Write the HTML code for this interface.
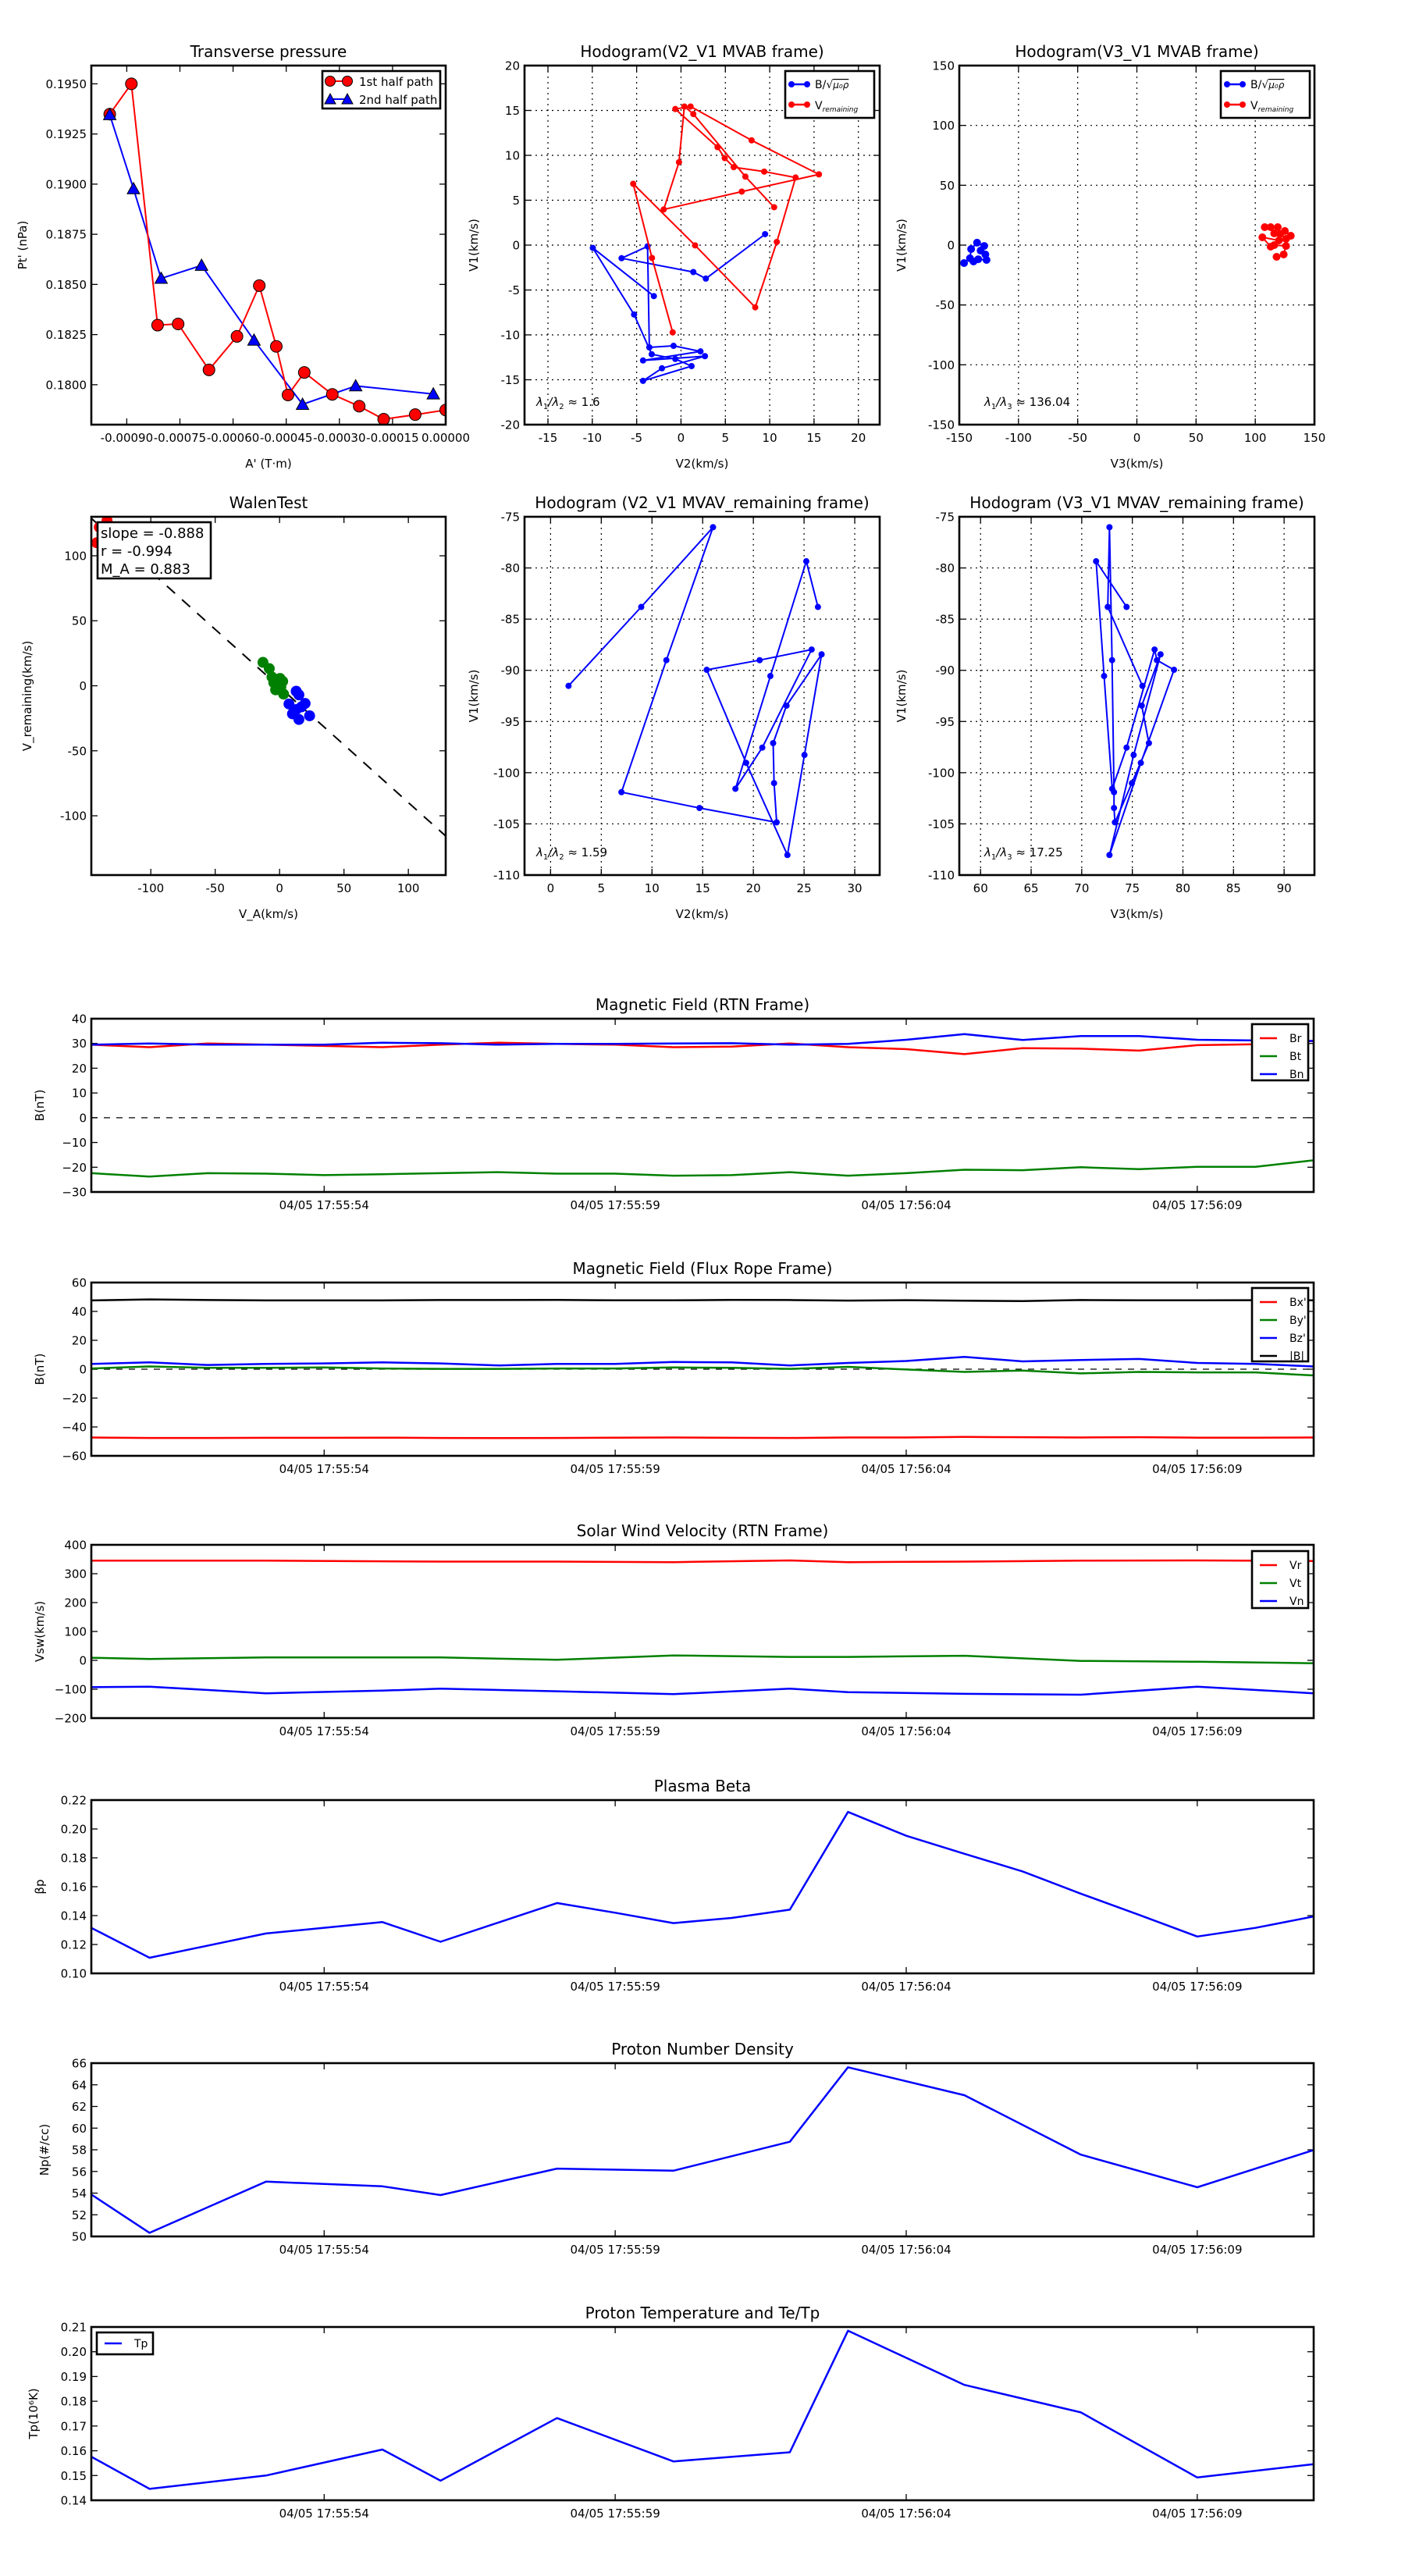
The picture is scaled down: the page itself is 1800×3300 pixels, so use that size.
<!DOCTYPE html>
<html><head><meta charset="utf-8">
<style>
html,body{margin:0;padding:0;background:#fff;}
svg{display:block;font-family:"DejaVu Sans","Liberation Sans",sans-serif;}
</style></head>
<body>
<svg id="fig" width="1800" height="3300" viewBox="0 0 1800 3300" xmlns="http://www.w3.org/2000/svg"></svg>
<script>
// ---------- data: transverse pressure ----------
const tpA1 = [-0.000948,-0.000887,-0.000813,-0.000755,-0.000668,-0.000589,-0.000526,-0.000478,-0.000445,-0.000399,-0.000320,-0.000244,-0.000175,-0.000086,0];
const tpP1 = [0.19349,0.1950,0.18297,0.18303,0.18074,0.18241,0.18494,0.18191,0.17949,0.18061,0.17952,0.17893,0.17828,0.17851,0.17874];
const tpA2 = [-0.000948,-0.000881,-0.000803,-0.000689,-0.000541,-0.000404,-0.000254,-0.000035];
const tpP2 = [0.19346,0.18977,0.1853,0.18595,0.18222,0.17902,0.17994,0.17954];
// ---------- hodogram V2-V1 MVAB ----------
const h1BV2 = [9.48,2.8,1.39,-6.7,-3.77,-3.57,-0.84,2.2,-4.28,2.7,-2.15,-4.28,1.19,-0.64,-3.3,-5.29,-9.94,-3.06];
const h1BV1 = [1.22,-3.73,-3.0,-1.46,-0.14,-11.39,-11.22,-11.84,-12.85,-12.37,-13.72,-15.12,-13.48,-12.68,-12.16,-7.73,-0.31,-5.68];
const h1VV2 = [-0.94,-3.27,-5.39,1.59,8.37,10.8,12.92,9.38,5.94,4.93,4.12,-0.64,1.08,7.96,15.55,6.85,-1.95,-0.23,0.38,1.39,7.26,10.5];
const h1VV1 = [-9.72,-1.43,6.83,-0.03,-6.93,0.35,7.53,8.19,8.68,9.69,10.91,15.16,15.44,11.67,7.88,5.96,3.97,9.23,15.44,14.6,7.63,4.22];
// ---------- hodogram V3-V1 MVAB ----------
const h2BV3 = [-146,-141,-140,-135,-129,-132,-128,-127,-134,-138];
const h2BV1 = [-15,-11,-3.3,2,-0.7,-4.6,-7.8,-12.4,-11.8,-13.7];
const h2VV3 = [108,113,119,116,121,125,130,126,120,106,113,116,126,124,118];
const h2VV1 = [15,15,15,9.8,9.2,11.8,7.8,5.2,3.9,6.5,-1.3,0,-0.7,-7.8,-9.8];
// ---------- Walen test ----------
const walenSlope = -0.888;
const walenIntercept = -1;
const wGx = [-12.9,-8.0,-5.9,0.35,-4.5,2.4,-3.1,3.1,1.0];
const wGy = [18.0,13.2,6.7,5.6,2.4,3.4,-3.1,-6.4,-0.9];
const wBx = [12.9,15.0,7.3,19.8,12.9,23.3,15.0,10.0,17.0];
const wBy = [-4.2,-7.0,-14.0,-13.6,-18.3,-23.1,-25.9,-21.6,-16.2];
const wRx = [-140,-137,-142,-134];
const wRy = [122,115,110,127];
// ---------- MVAV hodograms ----------
const mV2 = [1.77,8.94,16.02,11.42,6.99,14.69,22.3,22.04,21.95,23.27,26.73,25.04,23.36,19.29,15.4,20.62,25.75,20.88,18.23,21.68,25.22,26.37];
const mV1 = [-91.52,-83.81,-76.02,-89.01,-101.9,-103.45,-104.85,-101.02,-97.11,-93.45,-88.44,-98.27,-108.04,-99.04,-89.95,-89.01,-87.97,-97.55,-101.57,-90.56,-79.35,-83.81];
const mV3 = [76.0,72.57,72.74,73.0,73.19,73.19,73.28,74.96,76.64,75.93,77.79,75.13,72.74,75.84,79.12,77.43,77.2,74.43,73.01,72.21,71.42,74.43];
// ---------- time series ----------
const tSec = [50,51,52,53,54,55,56,57,58,59,60,61,62,63,64,65,66,67,68,69,70,71];
const Br = [29.5,28.5,30,29.5,29,28.5,29.5,30.3,29.8,29.5,28.5,28.7,30,28.5,27.7,25.7,28.1,27.9,27.1,29.3,29.7,31];
const Bt = [-22.4,-23.8,-22.4,-22.6,-23.2,-22.8,-22.4,-22,-22.6,-22.6,-23.4,-23.2,-22,-23.4,-22.4,-21,-21.2,-20,-20.8,-19.8,-19.8,-17.2];
const Bn = [29.5,30,29.5,29.5,29.5,30.3,30.1,29.5,29.8,29.8,30,30.1,29.5,29.8,31.5,33.8,31.4,33,33,31.5,31.2,31];
const Bx = [-47.3,-47.6,-47.6,-47.5,-47.5,-47.4,-47.6,-47.7,-47.6,-47.4,-47.3,-47.5,-47.6,-47.3,-47.3,-46.9,-47.1,-47.3,-47.1,-47.4,-47.4,-47.3];
const By = [0.5,1.9,0.9,0.9,1.2,0.5,0.2,0.2,0.5,0.5,1.2,0.9,0.2,1.6,-0.2,-1.9,-0.9,-2.9,-1.9,-2.2,-2.2,-4.3];
const Bz = [3.6,4.7,2.9,3.6,4,4.7,4,2.6,3.6,3.6,5,4.7,2.6,4.3,5.7,8.5,5.4,6.4,7.1,4.3,3.6,1.9];
const Bmag = [47.6,48.3,47.9,47.6,47.6,47.6,47.9,47.9,48,47.7,47.7,48,47.9,47.5,47.8,47.4,47.2,47.9,47.7,47.7,47.8,47.7];
const tV = [50,51,53,55,56,58,60,62,63,65,67,69,71];
const Vr = [345,345,345,343,342,342,340,346,340,342,345,346,344];
const Vt = [9,5,10,10,10,2,17,12,12,16,-2,-5,-10];
const Vn = [-93,-91,-114,-105,-98,-107,-117,-98,-110,-116,-119,-91,-114];
const tBeta = [50,51,53,55,56,58,59,60,61,62,63,64,65,66,67,68,69,70,71];
const beta = [0.1315,0.1108,0.1276,0.1355,0.1219,0.1487,0.142,0.1348,0.1384,0.1441,0.2118,0.1953,0.1828,0.1706,0.1552,0.1405,0.1255,0.1315,0.1394];
const tNp = [50,51,53,55,56,58,60,62,63,65,67,69,71];
const Np = [53.87,50.33,55.06,54.63,53.82,56.26,56.07,58.74,65.62,63.04,57.55,54.54,57.98];
const Tp = [0.1576,0.1446,0.1500,0.1605,0.1479,0.1732,0.1557,0.1594,0.2085,0.1866,0.1755,0.1492,0.1546];
const timeTicks = [54,59,64,69];
const timeLabels = ['04/05 17:55:54','04/05 17:55:59','04/05 17:56:04','04/05 17:56:09'];

// ---------- helpers ----------
const NS = 'http://www.w3.org/2000/svg';
const fig = document.getElementById('fig');
function mk(tag, attrs, parent, name, inter) {
  const el = document.createElementNS(NS, tag);
  for (const k in attrs) el.setAttribute(k, attrs[k]);
  
  
  (parent || fig).appendChild(el);
  return el;
}
function txt(x, y, s, size, anchor, parent, name, extra) {
  const a = {x: x, y: y, 'font-size': size, 'text-anchor': anchor || 'middle', fill: '#000'};
  if (extra) for (const k in extra) a[k] = extra[k];
  const t = mk('text', a, parent, name, false);
  t.textContent = s;
  return t;
}
function axes(o) {
  const g = mk('g', {}, fig, o.name, false);
  const sx = v => o.x0 + (v - o.xmin) / (o.xmax - o.xmin) * o.w;
  const sy = v => o.y0 + o.h - (v - o.ymin) / (o.ymax - o.ymin) * o.h;
  const gridG = mk('g', {}, g, o.name + '-grid', false);
  const tickG = mk('g', {stroke: '#000', 'stroke-width': 1.3}, g, o.name + '-ticks', false);
  o.xticks.forEach((v, i) => {
    const x = sx(v);
    if (o.grid) mk('line', {x1: x, y1: o.y0, x2: x, y2: o.y0 + o.h, stroke: '#000', 'stroke-width': 1.2, 'stroke-dasharray': '2,5'}, gridG, 'x-gridline', false);
    mk('line', {x1: x, y1: o.y0 + o.h, x2: x, y2: o.y0 + o.h - 8}, tickG, 'x-tick', false);
    mk('line', {x1: x, y1: o.y0, x2: x, y2: o.y0 + 8}, tickG, 'x-tick-top', false);
    txt(x, o.y0 + o.h + 22, o.xlabels[i], 15, 'middle', g, 'x-tick-label');
  });
  o.yticks.forEach((v, i) => {
    const y = sy(v);
    if (o.grid) mk('line', {x1: o.x0, y1: y, x2: o.x0 + o.w, y2: y, stroke: '#000', 'stroke-width': 1.2, 'stroke-dasharray': '2,5'}, gridG, 'y-gridline', false);
    mk('line', {x1: o.x0, y1: y, x2: o.x0 + 8, y2: y}, tickG, 'y-tick', false);
    mk('line', {x1: o.x0 + o.w, y1: y, x2: o.x0 + o.w - 8, y2: y}, tickG, 'y-tick-right', false);
    txt(o.x0 - 6, y + 5.5, o.ylabels[i], 15, 'end', g, 'y-tick-label');
  });
  const plot = mk('g', {}, g, o.name + '-plot-area', false);
  const cp = 'clip-' + o.name;
  const defs = mk('defs', {}, g, 'clip-defs', false);
  const c = mk('clipPath', {id: cp}, defs, 'clip', false);
  mk('rect', {x: o.x0, y: o.y0, width: o.w, height: o.h}, c, 'clip-rect', false);
  plot.setAttribute('clip-path', 'url(#' + cp + ')');
  const frameG = mk('g', {}, g, o.name + '-frame-group', false);
  const fr = mk('rect', {x: o.x0, y: o.y0, width: o.w, height: o.h, fill: 'none', stroke: '#000', 'stroke-width': 2.6}, frameG, 'axes-frame', false);
  if (o.title) txt(o.x0 + o.w / 2, o.y0 - 11, o.title, 20, 'middle', g, 'chart-title');
  if (o.xlabel) txt(o.x0 + o.w / 2, o.y0 + o.h + 55, o.xlabel, 15, 'middle', g, 'x-axis-title');
  if (o.ylabel) {
    const t = txt(o.ylx, o.y0 + o.h / 2, o.ylabel, 15, 'middle', g, 'y-axis-title');
    t.setAttribute('transform', 'rotate(-90 ' + o.ylx + ' ' + (o.y0 + o.h / 2) + ')');
  }
  return {g: g, plot: plot, frameG: frameG, sx: sx, sy: sy};
}
function line(ax, xs, ys, color, w, name, dash) {
  const pts = xs.map((v, i) => ax.sx(v).toFixed(1) + ',' + ax.sy(ys[i]).toFixed(1)).join(' ');
  const a = {points: pts, fill: 'none', stroke: color, 'stroke-width': w, 'stroke-linejoin': 'round'};
  if (dash) a['stroke-dasharray'] = dash;
  return mk('polyline', a, ax.plot, name, false);
}
function dots(ax, xs, ys, color, r, name, edge) {
  const g = mk('g', {}, ax.plot, name + '-markers', false);
  xs.forEach((v, i) => {
    const a = {cx: ax.sx(v), cy: ax.sy(ys[i]), r: r, fill: color};
    if (edge) { a.stroke = '#000'; a['stroke-width'] = 1; }
    mk('circle', a, g, name + '-point', false);
  });
}
function tris(ax, xs, ys, color, s, name) {
  const g = mk('g', {}, ax.plot, name + '-markers', false);
  xs.forEach((v, i) => {
    const x = ax.sx(v), y = ax.sy(ys[i]);
    mk('polygon', {points: (x) + ',' + (y - s) + ' ' + (x - s) + ',' + (y + s * 0.8) + ' ' + (x + s) + ',' + (y + s * 0.8), fill: color, stroke: '#000', 'stroke-width': 1}, g, name + '-point', false);
  });
}
function legendBox(parent, x, y, w, h, name) {
  const g = mk('g', {}, parent, name, false);
  mk('rect', {x: x, y: y, width: w, height: h, fill: '#fff', stroke: '#000', 'stroke-width': 2.6}, g, 'legend-frame', false);
  return g;
}
function rng(a, b, s) { const r = []; for (let v = a; s > 0 ? v <= b + 1e-9 : v >= b - 1e-9; v += s) r.push(+v.toFixed(6)); return r; }

// ---------- Transverse pressure ----------
{
  const xt = [-0.0009,-0.00075,-0.0006,-0.00045,-0.0003,-0.00015,0];
  const yt = [0.18,0.1825,0.185,0.1875,0.19,0.1925,0.195];
  const ax = axes({name: 'transverse-pressure-chart', x0: 117, y0: 84, w: 454, h: 460, xmin: -0.001, xmax: 0, ymin: 0.17801, ymax: 0.19591,
    xticks: xt, xlabels: ['-0.00090','-0.00075','-0.00060','-0.00045','-0.00030','-0.00015','0.00000'],
    yticks: yt, ylabels: yt.map(v => v.toFixed(4)), title: 'Transverse pressure', xlabel: "A' (T·m)", ylabel: "Pt' (nPa)", ylx: 34});
  line(ax, tpA2, tpP2, '#0000ff', 2, 'second-half-path-line');
  line(ax, tpA1, tpP1, '#ff0000', 2, 'first-half-path-line');
  dots(ax, tpA1, tpP1, '#ff0000', 7.5, 'first-half-path', true);
  tris(ax, tpA2, tpP2, '#0000ff', 8, 'second-half-path');
  const lg = legendBox(ax.frameG, 413, 91, 151, 48, 'legend');
  mk('line', {x1: 423, y1: 104, x2: 445, y2: 104, stroke: '#f00', 'stroke-width': 2}, lg, 'legend-swatch-first', false);
  mk('circle', {cx: 423, cy: 104, r: 6.5, fill: '#f00', stroke: '#000'}, lg, 'legend-marker', false);
  mk('circle', {cx: 445, cy: 104, r: 6.5, fill: '#f00', stroke: '#000'}, lg, 'legend-marker', false);
  txt(460, 110, '1st half path', 15, 'start', lg, 'legend-entry-first');
  mk('line', {x1: 423, y1: 127, x2: 445, y2: 127, stroke: '#00f', 'stroke-width': 2}, lg, 'legend-swatch-second', false);
  mk('polygon', {points: '423,120 416,133 430,133', fill: '#00f', stroke: '#000'}, lg, 'legend-marker', false);
  mk('polygon', {points: '445,120 438,133 452,133', fill: '#00f', stroke: '#000'}, lg, 'legend-marker', false);
  txt(460, 133, '2nd half path', 15, 'start', lg, 'legend-entry-second');
}
function hodoLegend(parent, x, y, name) {
  const lg = legendBox(parent, x, y, 114, 60, name);
  mk('line', {x1: x + 8, y1: y + 17, x2: x + 28, y2: y + 17, stroke: '#00f', 'stroke-width': 2.5}, lg, 'legend-swatch-b', false);
  mk('circle', {cx: x + 8, cy: y + 17, r: 4, fill: '#00f'}, lg, 'legend-marker', false);
  mk('circle', {cx: x + 28, cy: y + 17, r: 4, fill: '#00f'}, lg, 'legend-marker', false);
  const t1 = txt(x + 38, y + 22, 'B/√', 14, 'start', lg, 'legend-entry-b');
  const ts = document.createElementNS(NS, 'tspan'); ts.setAttribute('font-style', 'italic'); ts.setAttribute('font-size', '12'); ts.setAttribute('text-decoration', 'overline'); ts.textContent = 'μ₀ρ'; t1.appendChild(ts);
  mk('line', {x1: x + 8, y1: y + 43, x2: x + 28, y2: y + 43, stroke: '#f00', 'stroke-width': 2.5}, lg, 'legend-swatch-v', false);
  mk('circle', {cx: x + 8, cy: y + 43, r: 4, fill: '#f00'}, lg, 'legend-marker', false);
  mk('circle', {cx: x + 28, cy: y + 43, r: 4, fill: '#f00'}, lg, 'legend-marker', false);
  const t2 = txt(x + 38, y + 49, 'V', 14, 'start', lg, 'legend-entry-v');
  const ts2 = document.createElementNS(NS, 'tspan'); ts2.setAttribute('font-style', 'italic'); ts2.setAttribute('font-size', '9'); ts2.setAttribute('dy', '3'); ts2.textContent = 'remaining'; t2.appendChild(ts2);
}
function lambdaText(parent, x, y, sub, val, name) {
  const t = txt(x, y, '', 15, 'start', parent, name);
  const parts = [['λ', 0, 'italic', 15], ['1', 4, 'normal', 10], ['/λ', -4, 'italic', 15], [sub, 4, 'normal', 10], [' ≈ ' + val, -4, 'normal', 15]];
  parts.forEach(p => { const s = document.createElementNS(NS, 'tspan'); s.setAttribute('dy', p[1]); s.setAttribute('font-style', p[2]); s.setAttribute('font-size', p[3]); s.textContent = p[0]; t.appendChild(s); });
}
// ---------- Hodogram V2_V1 MVAB ----------
{
  const xt = rng(-15, 20, 5), yt = rng(-20, 20, 5);
  const ax = axes({name: 'hodogram-v2-v1-mvab', x0: 672, y0: 84, w: 455, h: 460, xmin: -17.64, xmax: 22.4, ymin: -20, ymax: 20,
    xticks: xt, xlabels: xt.map(String), yticks: yt, ylabels: yt.map(String), grid: true,
    title: 'Hodogram(V2_V1 MVAB frame)', xlabel: 'V2(km/s)', ylabel: 'V1(km/s)', ylx: 612});
  line(ax, h1BV2, h1BV1, '#0000ff', 2, 'b-alfven-path');
  dots(ax, h1BV2, h1BV1, '#0000ff', 4, 'b-alfven');
  line(ax, h1VV2, h1VV1, '#ff0000', 2, 'v-remaining-path');
  dots(ax, h1VV2, h1VV1, '#ff0000', 4, 'v-remaining');
  hodoLegend(ax.frameG, 1006, 91, 'legend');
  lambdaText(ax.g, 687, 520, '2', '1.6', 'eigenvalue-ratio');
}
// ---------- Hodogram V3_V1 MVAB ----------
{
  const t = rng(-150, 150, 50);
  const ax = axes({name: 'hodogram-v3-v1-mvab', x0: 1229, y0: 84, w: 455, h: 460, xmin: -150, xmax: 150, ymin: -150, ymax: 150,
    xticks: t, xlabels: t.map(String), yticks: t, ylabels: t.map(String), grid: true,
    title: 'Hodogram(V3_V1 MVAB frame)', xlabel: 'V3(km/s)', ylabel: 'V1(km/s)', ylx: 1160});
  line(ax, h2BV3, h2BV1, '#0000ff', 2, 'b-alfven-path');
  dots(ax, h2BV3, h2BV1, '#0000ff', 5, 'b-alfven');
  line(ax, h2VV3, h2VV1, '#ff0000', 2, 'v-remaining-path');
  dots(ax, h2VV3, h2VV1, '#ff0000', 5, 'v-remaining');
  hodoLegend(ax.frameG, 1564, 91, 'legend');
  lambdaText(ax.g, 1261, 520, '3', '136.04', 'eigenvalue-ratio');
}
// ---------- Walen test ----------
{
  const t = [-100, -50, 0, 50, 100];
  const ax = axes({name: 'walen-test-chart', x0: 117, y0: 662, w: 454, h: 459, xmin: -146.2, xmax: 129, ymin: -145.6, ymax: 130,
    xticks: t, xlabels: t.map(String), yticks: t, ylabels: t.map(String),
    title: 'WalenTest', xlabel: 'V_A(km/s)', ylabel: 'V_remaining(km/s)', ylx: 40});
  const lx = [-146.2, 129];
  line(ax, lx, lx.map(v => walenSlope * v + walenIntercept), '#000', 2, 'fit-line', '14,12');
  dots(ax, wRx, wRy, '#ff0000', 7, 'red-points');
  dots(ax, wGx, wGy, '#008000', 7, 'green-points');
  dots(ax, wBx, wBy, '#0000ff', 7, 'blue-points');
  const lg = legendBox(ax.frameG, 125, 669, 145, 72, 'fit-stats-box');
  txt(129, 689, 'slope = -0.888', 18, 'start', lg, 'slope-text');
  txt(129, 712, 'r = -0.994', 18, 'start', lg, 'r-text', {});
  txt(129, 735, 'M_A = 0.883', 18, 'start', lg, 'mach-text');
}
// ---------- MVAV hodograms ----------
{
  const xt = rng(0, 30, 5), yt = rng(-75, -110, -5);
  const ax = axes({name: 'hodogram-v2-v1-mvav', x0: 672, y0: 662, w: 455, h: 459, xmin: -2.57, xmax: 32.46, ymin: -110, ymax: -75,
    xticks: xt, xlabels: xt.map(String), yticks: yt, ylabels: yt.map(String), grid: true,
    title: 'Hodogram (V2_V1 MVAV_remaining frame)', xlabel: 'V2(km/s)', ylabel: 'V1(km/s)', ylx: 612});
  line(ax, mV2, mV1, '#0000ff', 2, 'v-path');
  dots(ax, mV2, mV1, '#0000ff', 4, 'v');
  lambdaText(ax.g, 687, 1097, '2', '1.59', 'eigenvalue-ratio');
}
{
  const xt = rng(60, 90, 5), yt = rng(-75, -110, -5);
  const ax = axes({name: 'hodogram-v3-v1-mvav', x0: 1229, y0: 662, w: 455, h: 459, xmin: 57.9, xmax: 93.0, ymin: -110, ymax: -75,
    xticks: xt, xlabels: xt.map(String), yticks: yt, ylabels: yt.map(String), grid: true,
    title: 'Hodogram (V3_V1 MVAV_remaining frame)', xlabel: 'V3(km/s)', ylabel: 'V1(km/s)', ylx: 1160});
  line(ax, mV3, mV1, '#0000ff', 2, 'v-path');
  dots(ax, mV3, mV1, '#0000ff', 4, 'v');
  lambdaText(ax.g, 1261, 1097, '3', '17.25', 'eigenvalue-ratio');
}
// ---------- time series ----------
function tsAxes(name, y0, ymin, ymax, yt, ylab, title, ylabel, ylx) {
  return axes({name: name, x0: 117, y0: y0, w: 1566, h: 222, xmin: 50, xmax: 71, ymin: ymin, ymax: ymax,
    xticks: timeTicks, xlabels: timeLabels, yticks: yt, ylabels: ylab, title: title, ylabel: ylabel, ylx: ylx || 56});
}
function tsLegend(parent, x, y, h, names, colors, name) {
  const lg = legendBox(parent, x, y, 72, h, name);
  names.forEach((n, i) => {
    const yy = y + 18 + i * 23;
    mk('line', {x1: x + 10, y1: yy, x2: x + 32, y2: yy, stroke: colors[i], 'stroke-width': 2.5}, lg, 'legend-swatch', false);
    txt(x + 48, yy + 5, n, 14, 'start', lg, 'legend-entry');
  });
}
{
  const yt = rng(-30, 40, 10);
  const ax = tsAxes('magnetic-field-rtn-chart', 1305, -30, 40, yt, yt.map(v => v < 0 ? '−' + (-v) : String(v)), 'Magnetic Field (RTN Frame)', 'B(nT)');
  line(ax, [50, 71], [0, 0], '#000', 1.3, 'zero-line', '8,8');
  line(ax, tSec, Br, '#ff0000', 2.5, 'br-line');
  line(ax, tSec, Bt, '#008000', 2.5, 'bt-line');
  line(ax, tSec, Bn, '#0000ff', 2.5, 'bn-line');
  tsLegend(ax.frameG, 1604, 1312, 72, ['Br', 'Bt', 'Bn'], ['#f00', '#008000', '#00f'], 'legend');
}
{
  const yt = rng(-60, 60, 20);
  const ax = tsAxes('magnetic-field-flux-rope-chart', 1643, -60, 60, yt, yt.map(v => v < 0 ? '−' + (-v) : String(v)), 'Magnetic Field (Flux Rope Frame)', 'B(nT)');
  line(ax, [50, 71], [0, 0], '#000', 1.3, 'zero-line', '8,8');
  line(ax, tSec, Bx, '#ff0000', 2.5, 'bx-line');
  line(ax, tSec, By, '#008000', 2.5, 'by-line');
  line(ax, tSec, Bz, '#0000ff', 2.5, 'bz-line');
  line(ax, tSec, Bmag, '#000000', 2.5, 'bmag-line');
  tsLegend(ax.frameG, 1604, 1650, 94, ["Bx'", "By'", "Bz'", '|B|'], ['#f00', '#008000', '#00f', '#000'], 'legend');
}
{
  const yt = rng(-200, 400, 100);
  const ax = tsAxes('solar-wind-velocity-chart', 1979, -200, 400, yt, yt.map(v => v < 0 ? '−' + (-v) : String(v)), 'Solar Wind Velocity (RTN Frame)', 'Vsw(km/s)');
  line(ax, tV, Vr, '#ff0000', 2.5, 'vr-line');
  line(ax, tV, Vt, '#008000', 2.5, 'vt-line');
  line(ax, tV, Vn, '#0000ff', 2.5, 'vn-line');
  tsLegend(ax.frameG, 1604, 1987, 73, ['Vr', 'Vt', 'Vn'], ['#f00', '#008000', '#00f'], 'legend');
}
{
  const yt = rng(0.10, 0.22, 0.02);
  const ax = tsAxes('plasma-beta-chart', 2306, 0.10, 0.22, yt, yt.map(v => v.toFixed(2)), 'Plasma Beta', 'βp', 56);
  line(ax, tBeta, beta, '#0000ff', 2.5, 'beta-line');
}
{
  const yt = rng(50, 66, 2);
  const ax = tsAxes('proton-density-chart', 2643, 50, 66, yt, yt.map(String), 'Proton Number Density', 'Np(#/cc)', 62);
  line(ax, tNp, Np, '#0000ff', 2.5, 'np-line');
}
{
  const yt = rng(0.14, 0.21, 0.01);
  const ax = tsAxes('proton-temperature-chart', 2981, 0.14, 0.21, yt, yt.map(v => v.toFixed(2)), 'Proton Temperature and Te/Tp', 'Tp(10⁶K)', 48);
  line(ax, tNp, Tp, '#0000ff', 2.5, 'tp-line');
  const lg = legendBox(ax.frameG, 124, 2988, 72, 28, 'legend');
  mk('line', {x1: 134, y1: 3002, x2: 156, y2: 3002, stroke: '#00f', 'stroke-width': 2.5}, lg, 'legend-swatch', false);
  txt(172, 3007, 'Tp', 14, 'start', lg, 'legend-entry-tp');
}
</script>
</body></html>
